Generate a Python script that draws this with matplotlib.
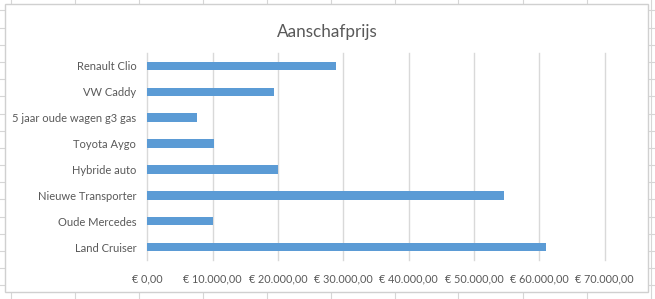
import matplotlib
matplotlib.use("Agg")
import matplotlib.pyplot as plt
from matplotlib.patches import Rectangle
from matplotlib.lines import Line2D
from matplotlib.ticker import FuncFormatter, MultipleLocator

# ---- data ----
categories = ["Renault Clio", "VW Caddy", "5 jaar oude wagen g3 gas", "Toyota Aygo",
              "Hybride auto", "Nieuwe Transporter", "Oude Mercedes", "Land Cruiser"]
prices = [28900, 19400, 7600, 10150, 20000, 54600, 10050, 61000]
title = "Aanschafprijs"
x_max = 70000
x_step = 10000

W, H = 655, 299
fig = plt.figure(figsize=(W / 100, H / 100), dpi=100)
fig.patch.set_facecolor("white")
plt.rcParams["font.family"] = ["Lato", "DejaVu Sans"]

def fx(px):
    return px / W

def fy(py):
    return 1 - py / H

# spreadsheet grid behind the chart
grid_c = "#d6d6d6"
x = 10.5
while x < W:
    fig.add_artist(Line2D([fx(x), fx(x)], [0, 1], color=grid_c, lw=0.8, zorder=0))
    x += 64
y = 10.3
while y < H:
    fig.add_artist(Line2D([0, 1], [fy(y), fy(y)], color=grid_c, lw=0.8, zorder=0))
    y += 17.2

# chart area
cl, ct, cr, cb = 5, 4, 648, 292
fig.add_artist(Rectangle((fx(cl), fy(cb)), fx(cr - cl), (cb - ct) / H,
                         facecolor="white", edgecolor="#d0d0d0", lw=1.0, zorder=1))

# plot area
left, right, top, bottom = 147.4, 604.5, 53, 260
ax = fig.add_axes([fx(left), fy(bottom), fx(right - left), (bottom - top) / H], zorder=2)
ax.patch.set_alpha(0)

ypos = list(range(len(categories)))
ax.barh(ypos, prices, height=0.33, color="#5B9BD5", zorder=3)
ax.set_ylim(len(categories) - 0.5, -0.5)
ax.set_yticks(ypos)
ax.set_yticklabels(categories)
ax.set_xlim(0, x_max)
ax.xaxis.set_major_locator(MultipleLocator(x_step))

def euro(v, pos):
    s = f"{v:,.2f}".replace(",", "X").replace(".", ",").replace("X", ".")
    return f"€ {s}"

ax.xaxis.set_major_formatter(FuncFormatter(euro))
ax.grid(axis="x", color="#d9d9d9", lw=1.0, zorder=0)
for gl in ax.get_xgridlines():
    gl.set_clip_on(False)
for s in ax.spines.values():
    s.set_visible(False)
ax.tick_params(axis="both", length=0, colors="#595959")
ax.tick_params(axis="y", pad=8, labelsize=8.0)
ax.tick_params(axis="x", pad=10, labelsize=7.8)

fig.text(fx(327), fy(32), title, ha="center", va="center", fontsize=12.3, color="#595959")

fig.savefig("out.png", dpi=100)
